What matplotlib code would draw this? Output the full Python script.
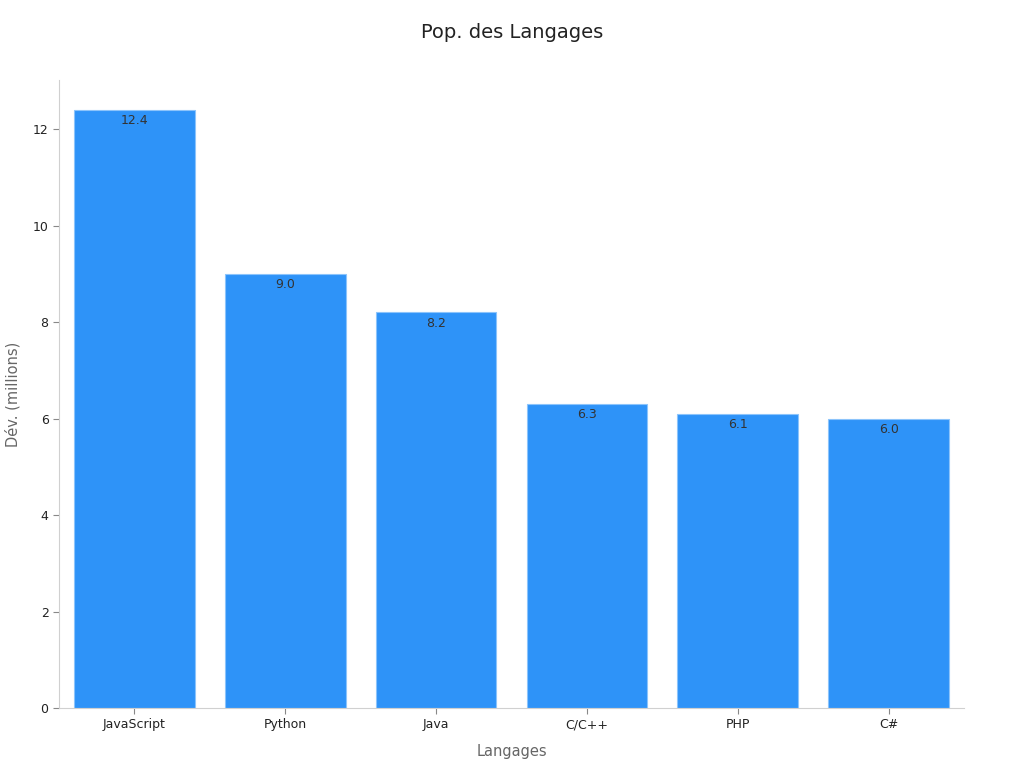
import matplotlib
matplotlib.use("Agg")
import matplotlib.pyplot as plt

languages = ["JavaScript", "Python", "Java", "C/C++", "PHP", "C#"]
developers = [12.4, 9.0, 8.2, 6.3, 6.1, 6.0]

plt.rcParams['font.family'] = ['DejaVu Sans']

fig = plt.figure(figsize=(10.24, 7.68), dpi=100)
ax = fig.add_axes([59/1024, 1 - 708/768, (964-59)/1024, (708-80)/768])

x = list(range(len(languages)))
bars = ax.bar(x, developers, width=0.8, color="#2E93F8", edgecolor="#8CC4FB", linewidth=0.8)
for xi, v in zip(x, developers):
    ax.annotate(f"{v:.1f}", (xi, v), xytext=(0, -3), textcoords="offset points",
                ha="center", va="top", fontsize=9, color="#333333")

ax.set_xlim(-0.5, len(languages) - 0.5)
ax.set_ylim(0, max(developers) * 1.05)
ax.set_xticks(x)
ax.set_xticklabels(languages)
ax.set_yticks([0, 2, 4, 6, 8, 10, 12])

for s in ["top", "right"]:
    ax.spines[s].set_visible(False)
for s in ["left", "bottom"]:
    ax.spines[s].set_color("#D0D0D0")
    ax.spines[s].set_linewidth(0.8)
ax.tick_params(axis="both", colors="#888888", labelcolor="#222222", labelsize=9, length=4)

ax.set_xlabel("Langages", fontsize=10.5, color="#666666", labelpad=9)
ax.set_ylabel("Dév. (millions)", fontsize=10.5, color="#666666", labelpad=9)
fig.suptitle("Pop. des Langages", fontsize=14, color="#222222", y=1 - 33/768, va="center")

fig.savefig("out.png", dpi=100)
